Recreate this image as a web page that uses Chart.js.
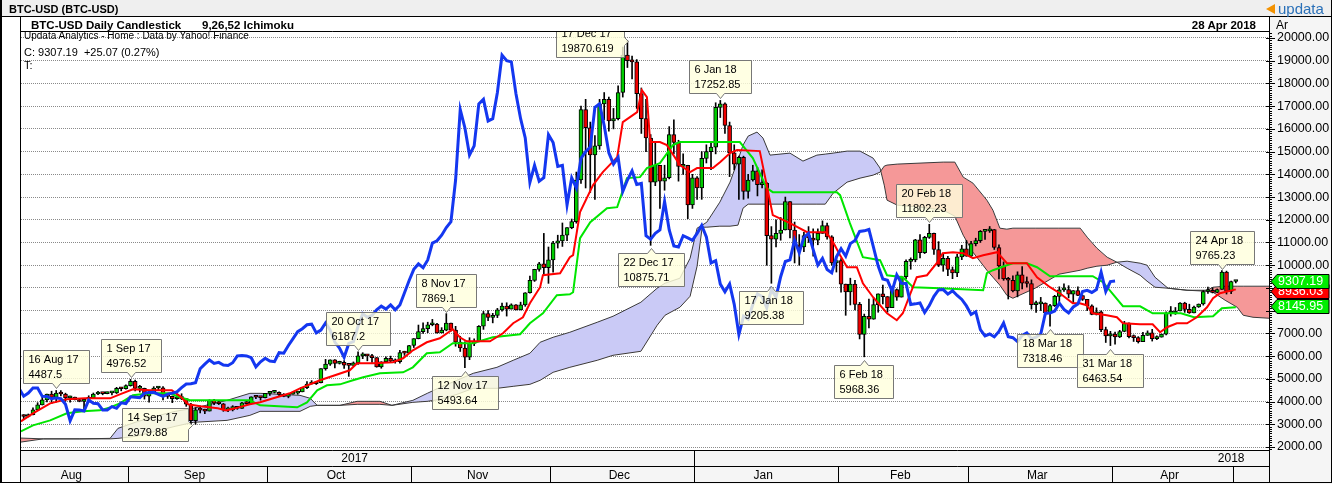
<!DOCTYPE html>
<html>
<head>
<meta charset="utf-8">
<title>BTC-USD Daily Candlestick</title>
<script src="https://cdn.jsdelivr.net/npm/chart.js@4.4.1/dist/chart.umd.min.js"></script>
<style>
  html, body { margin: 0; padding: 0; background: #fff; }
  #wrap { position: relative; width: 1332px; height: 484px; overflow: hidden; font-family: "Liberation Sans", Arial, sans-serif; color: #000; }
  #c { position: absolute; left: 0; top: 0; width: 1332px; height: 484px; }
  .t { position: absolute; white-space: pre; line-height: 14px; height: 14px; z-index: 2; }
  .b { font-weight: bold; }
</style>
</head>
<body>
<div id="wrap">
  <canvas id="c" width="1332" height="484"></canvas>
  <div class="t b" style="left:9px;top:2px;font-size:11px;">BTC-USD (BTC-USD)</div>
  <div style="position:absolute;left:1266px;top:4px;width:0;height:0;border-top:5px solid transparent;border-bottom:5px solid transparent;border-right:9px solid #f39200;z-index:2;"></div>
  <div class="t" style="left:1278px;top:0px;font-size:15px;line-height:17px;height:17px;color:#2a70b8;">updata</div>
  <div class="t b" style="left:31px;top:18px;font-size:11.5px;">BTC-USD Daily Candlestick</div>
  <div class="t b" style="left:202px;top:18px;font-size:11.5px;">9,26,52 Ichimoku</div>
  <div class="t b" style="right:76px;top:18px;font-size:11.5px;">28 Apr 2018</div>
  <div class="t" style="left:1276px;top:18px;font-size:12px;">Ar</div>
  <div class="t" style="left:24px;top:29px;font-size:10px;">Updata Analytics - Home : Data by Yahoo! Finance</div>
  <div class="t" style="left:24px;top:45px;font-size:11px;">C: 9307.19  +25.07 (0.27%)</div>
  <div class="t" style="left:24px;top:58px;font-size:11px;">T:</div>
</div>
<script>
// ── Data: BTC-USD daily candles, 9 Aug 2017 - 27 Apr 2018 ──
// x unit = days counted from 1 Sep 2017
const firstDay = -23;

const opens = [
  // Aug
  3420,3342,3419,3632,3852,4073,4326,4181,4376,4331,4160,4194,4087,4001,4100,4151,4334,4371,4352,4382,4382,4579,4565,
  // Sep
  4703,4892,4578,4582,4236,4376,4597,4599,4228,4226,4122,4161,4130,3882,3154,3637,3625,3582,4065,3924,3905,3631,3631,3776,3703,3942,3910,4208,4189,4174,
  // Oct
  4360,4404,4409,4318,4229,4328,4370,4427,4611,4773,4782,4826,5446,5647,5831,5678,5725,5605,5590,5708,6011,6031,6008,5930,5526,5750,5904,5780,5753,6153,6130,
  // Nov
  6468,6767,7078,7207,7379,7407,7022,7144,7459,7143,6618,6357,5950,6559,6635,7315,7871,7708,7790,8036,8200,8071,8253,8038,8253,8790,9330,9818,10058,9888,
  // Dec
  10233,10975,11074,11323,11657,11916,13750,16850,16050,14850,15250,17100,17300,16350,16450,17600,19250,19000,18950,17550,16450,15600,13650,14400,13700,13850,15750,15400,14350,14400,12650,
  // Jan
  13850,13400,14700,15000,15200,16950,17100,16150,14950,14450,14750,13250,13750,14150,13550,13600,11300,11150,11400,11550,12800,11550,10850,10800,11300,11200,11100,11400,11750,11250,10100,
  // Feb
  10200,9170,8830,9174,8277,6955,7754,7621,8265,8736,8621,8129,8926,8598,9494,10166,10233,11112,10551,11225,11403,10690,10005,10301,9813,9664,10366,10725,
  // Mar
  10397,10951,11086,11489,11513,11573,10779,9965,9395,9337,8866,9578,9205,9194,8269,8300,8338,7916,8223,8630,8913,8929,8728,8879,8668,8495,8209,7833,7954,7165,6891,
  // Apr
  6973,6845,7083,7456,6853,6811,6636,6911,7023,6770,6834,6968,7889,7895,7986,8329,8058,7903,8163,8294,8845,8895,8802,8931,9697,8845,9282.12
];
const highs = [
  3422,3453,3719,3950,4208,4330,4455,4487.5,4484,4370,4243,4196,4109,4128,4255,4376,4455,4379,4416,4443,4625,4626,4736,
  4976.52,4940,4714,4591,4471,4655,4655,4662,4321,4245,4308,4344,4131,3921,3734,3808,3664,4079,4094,4031,3917,3758,3819,3788,3968,4007,4210,4264,4214,4362,
  4406,4470,4432,4352,4362,4413,4457,4624,4878,4922,4873,5450,5857,5837,5852,5776,5800,5605,5744,6187.2,6150,6076,6076,5935,5754,5971,6000,5876,6255,6214,6470,
  6770,7367,7461,7492,7617,7445,7253,7869.1,7459,7312,6873,6625,6811,6764,7342,7967,8004,7884,8101,8336,8348,8302,8268,8374,8795,9522,9822,10125,11400,10801,
  11046,11321,11859,11660,12032,14100,17000,17300,16300,15700,17300,17600,17400,16900,17900,19600,19870.62,19200,19050,17800,17300,15750,15400,14400,14400,16100,16400,15500,14900,14400,14000,
  13900,15000,15300,15400,17150,17252.85,17150,16300,15300,14800,14800,14000,14400,14300,14200,13650,11700,12000,12100,13000,12800,11900,11350,11450,11700,11600,11600,11950,11850,11300,10350,
  10289,9170,9430,9334,8364,7850,8509,8558,8740,9122,8621,8985,8958,9518,10234,10324,11139,11349,11273,11802.23,11418,11039,10487,10393,9923,10475,10878,11089,
  11052,11189,11528,11515,11704,11573,10900,10147,9466,9531,9711,9937,9484,9355,8425,8585,8346,8275,8675,9051,9177,9100,8882,9052,8682,8499,8259,8122,7994,7276,7090,
  7060,7135,7530,7469,6933,6857,7050,7111,7178,6892,6970,7950,8183,8140,8358,8371,8285,8197,8296,8880,9035,9001,8958,9765.23,9740,9305,9330
];
const lows = [
  3247,3319,3412,3632,3850,3989,3906,3977,4243,4015,3970,4069,3989,3674,4078,4130,4307,4297,4340,4288,4352,4471,4549,
  4678,4469,4417,4108,3972,4376,4491,4075,4135,3951,4099,4085,3789,2979.88,3000,3505,3467,3582,3868,3866,3570,3553,3587,3658,3703,3871,3892,4131,4062,4160,
  4269,4377,4258,4210,4164,4320,4319,4427,4564,4765,4751,4822,5380,5591,5478,5651,5461,5109,5570,5636,5887,5792,5724,5511,5466,5747,5724,5689,5684,6030,6103,
  6377,6758,7002,7031,7333,7007,7020,7114,7101,6436,6204,5493.64,5844,6461,6634,7176,7562,7463,7694,7981,7762,8071,8038,8032,8191,8775,9286,9736,9601,9202,
  9694,10756,10827,11081,11605,11850,13600,13400,13200,12900,15100,16400,15900,16000,16400,17400,18700,18200,16900,15800,15000,10875.71,13500,12500,13300,13800,14900,13700,14000,12050,12500,
  12900,12900,14500,14200,14900,16500,15800,13900,14200,12900,12900,12950,13700,13050,13400,10000,9205.38,10800,11100,11550,11200,10100,10000,10600,11000,10400,10900,11400,11150,10000,9700,
  8812,7796,8251,8032,6756,5968.36,7236,7621,7931,8295,7931,8129,8455,8598,9395,9824,10149,10326,10513,11180,10479,9939,9734,9535,9407,9501,10246,10393,
  10353,10850,11002,11136,11443,10694,9394,9335,8513,8828,8607,8957,9036,8068,7925,8005,7812,7318.46,8182,8389,8846,8564,8360,8665,8449,7999,7819,7809,7081,6600,6463.54,
  6526,6816,7072,6804,6645,6575,6631,6911,6662,6725,6834,6937,7758,7833,7986,7925,7880,7903,8141,8244,8757,8779,8790,8931,8731,8749,9220
];
const closes = [
  3342,3419,3632,3852,4073,4326,4181,4376,4331,4160,4194,4087,4001,4100,4151,4334,4371,4352,4382,4382,4579,4565,4703,
  4892,4578,4582,4236,4376,4597,4599,4228,4226,4122,4161,4130,3882,3154,3637,3625,3582,4065,3924,3905,3631,3631,3776,3703,3942,3910,4208,4189,4174,4360,
  4404,4409,4318,4229,4328,4370,4427,4611,4773,4782,4826,5446,5647,5831,5678,5725,5605,5590,5708,6011,6031,6008,5930,5526,5750,5904,5780,5753,6153,6130,6468,
  6767,7078,7207,7379,7407,7022,7144,7459,7143,6618,6357,5950,6559,6635,7315,7871,7708,7790,8036,8200,8071,8253,8038,8253,8790,9330,9818,10058,9888,10233,
  10975,11074,11323,11657,11916,13750,16850,16050,14850,15250,17100,17300,16350,16450,17600,19250,19000,18950,17550,16450,15600,13650,14400,13700,13850,15750,15400,14350,14400,12650,13850,
  13400,14700,15000,15200,16950,17100,16150,14950,14450,14750,13250,13750,14150,13550,13600,11300,11150,11400,11550,12800,11550,10850,10800,11300,11200,11100,11400,11750,11250,10100,10200,
  9170,8830,9174,8277,6955,7754,7621,8265,8736,8621,8129,8926,8598,9494,10166,10233,11112,10551,11225,11403,10690,10005,10301,9813,9664,10366,10725,10397,
  10951,11086,11489,11513,11573,10779,9965,9395,9337,8866,9578,9205,9194,8269,8300,8338,7916,8223,8630,8913,8929,8728,8879,8668,8495,8209,7833,7954,7165,6891,6973,
  6845,7083,7456,6853,6811,6636,6911,7023,6770,6834,6968,7889,7895,7986,8329,8058,7903,8163,8294,8845,8895,8802,8931,9697,8845,9282.12,9307.19
];

// ── Ichimoku lines (day, value) ──
const tenkanDays = [-23.6,-21,-17.3,-13.7,-9.8,-4.4,-2.3,0.5,4.2,8.9,10.7,12.4,15,18.8,20.6,22.5,25.7,27.9,34.3,36.5,40.8,47.2,48.8,52.2,56.5,58.7,60.8,63.8,66.6,69.4,70.9,72.4,77.4,80.2,82.4,84.5,86,88.2,88.8,92.5,94.6,95.3,96.8,99.6,101.7,104.8,106,109.1,110.1,111.2,111.9,114,115.5,118.3,120.5,122,125.4,127,129.1,130.6,135.5,137,138.3,142,145.7,149.8,151.3,152.8,154.3,156.4,157.7,159.9,162.9,165,166.3,169.3,171.5,173.6,174.9,177.1,179.3,181.4,183.6,186.6,188.7,193,195.2,198,200.1,202.9,204.4,205.9,207.2,210.2,212.4,213.7,217.4,220.1,221.7,223.2,225.3,227.5,229.6,231.8,233.1,234.6,238];
const tenkanVals = [3129,3481,3922,4098,4142,4142,4318,4538,4494,4494,4230,3878,3789,3701,3613,3701,3878,3966,4362,4582,4935,5375,5684,5684,5728,5904,6256,6609,6785,7182,6829,6653,6653,7005,7446,7710,8327,9032,9560,9648,10352,10441,12335,13525,14097,14758,16300,16740,17709,17401,15419,15419,15287,14406,14097,14274,14274,14538,14934,15066,15022,13525,12203,11851,11454,11454,11014,10441,9913,9913,9208,8591,7886,7578,7886,9472,9560,10089,10529,10573,10529,10309,10441,10573,10089,10089,9472,9032,8767,8327,8327,8239,7886,7799,7710,7446,7402,7402,7049,7270,7446,7446,7710,8150,8547,8767,8936.03];

const kijunDays = [-23.6,-21,-17.3,-13.7,-10.2,-6.6,-4.4,-2.3,0.5,4.2,8.5,10.7,12.8,25.7,27.9,35.9,38,40.2,42.3,45.1,47.9,50.1,53.7,58.7,60.8,63.8,66.6,69.4,73.7,78,83.9,86,88.8,91.8,94.6,95.3,96.8,99,102.6,104.8,106.9,109.7,111.2,114,116.8,118.3,131.2,134,137,138.3,152.1,152.8,154.9,157.7,161.4,162.9,166.3,168.5,174.3,183.6,184.4,185.7,188.7,190,193,195.2,198,207.2,209.4,213.7,217.4,220.1,226.2,229,233.1,235,238];
const kijunVals = [2688,2953,3173,3481,3569,3613,3745,3922,4274,4362,4362,4186,4054,4054,3833,3745,3966,4494,4714,4758,4935,5067,5243,5287,5507,6124,6168,6565,6565,6829,6961,7446,7886,8679,8723,8811,11190,11895,12512,12556,13833,13877,14274,14494,15287,15419,15419,14714,13393,13216,13216,13084,11851,10353,10221,9560,9472,9032,8988,8899,9648,9780,10001,10089,10089,9913,9516,9516,9252,8194,8194,7886,7886,7710,7754,8107,8145.95];

const cloudDays = [-23.6,-18.8,-10.9,-4.4,-2.7,1,5.3,9.6,13.5,20.8,25.7,27.9,36.5,38.7,40.2,45.1,48.8,53.7,56.3,60.8,63.9,66.7,70.3,73.8,78.9,82.4,86,88.2,91,94.6,100.5,103.9,109.9,113.4,115.1,118.3,120.5,122,123.1,124.1,126.9,129.1,130.8,131.9,133,134.9,136.2,137.7,142,144.8,147.8,149.6,151.3,154.3,157.1,159.9,161.4,162.3,162.9,165.1,170,175,177.5,179.3,181.4,184.4,185.7,187.2,188.7,190,194.8,199.9,204.5,206,208.1,210.3,212.4,214.6,217.4,218.9,220.6,223.4,227.5,231.8,233.1,235.7,238.3,239.6,241.7,245.2];
const spanA = [2217,2358,2358,2380,2820,3085,3349,3569,3701,4054,4362,4362,4274,4142,3833,3833,3878,3878,3833,4054,4362,4626,4935,5243,5507,5816,6124,6609,6829,7049,7490,7754,8371,8988,9208,9428,10309,11630,11763,11895,12776,13657,14626,15287,15683,15859,15595,14846,14934,14582,14846,14890,14934,15022,15022,14714,14274,13525,12864,12644,12556,12423,12159,11322,10573,9780,9472,9120,8679,8547,8988,9604,9780,9868,9957,10001,10133,10177,10089,10001,9472,8988,8899,8855,8811,8459,8150,7798,7710,7666];
const spanB = [2393,2358,2358,2358,2380,2468,2688,2909,3085,3173,3393,3569,3569,3789,3833,3833,4010,4010,3833,3966,4010,4098,4318,4582,4582,4670,4758,4935,5287,5507,5816,6036,6212,7358,7798,8150,8635,9957,11674,11674,11718,11718,11763,12512,12688,12688,12688,12688,12688,12688,12688,12688,13172,13657,13833,13965,14097,14362,14406,14450,14494,14538,14538,13877,13613,12864,12423,11630,11586,11630,11630,11630,11630,11234,10749,10353,10133,9868,9560,9296,9032,8988,8899,8899,9032,9076,9076,9076,9076,9076];
const chikouLag = 26;

// ── Swing labels ──
const noteDays   = [-16, 0, 13, 49, 68, 72, 107, 112, 127, 138, 158, 172, 198, 211, 235];
const noteDates  = ['16 Aug 17','1 Sep 17','14 Sep 17','20 Oct 17','8 Nov 17','12 Nov 17','17 Dec 17','22 Dec 17','6 Jan 18','17 Jan 18','6 Feb 18','20 Feb 18','18 Mar 18','31 Mar 18','24 Apr 18'];
const noteValues = ['4487.5','4976.52','2979.88','6187.2','7869.1','5493.64','19870.619','10875.71','17252.85','9205.38','5968.36','11802.23','7318.46','6463.54','9765.23'];
const noteTypes  = ['H','H','L','H','H','L','H','L','H','L','L','H','L','L','H'];

// ── Axes ──
const yTicks = [2000,3000,4000,5000,6000,7000,8000,9000,10000,11000,12000,13000,14000,15000,16000,17000,18000,19000,20000];
const yMin = 1868, yMax = 20264;
const xMin = -23.58, xMax = 245.15;
const monthLabels = ['Aug','Sep','Oct','Nov','Dec','Jan','Feb','Mar','Apr'];
const monthStarts = [-31, 0, 30, 61, 91, 122, 153, 181, 212];
const yearLabels = ['2017','2018'];
const yearStarts = [-243, 122];

// ── Styles ──
const W = 1332, H = 484;
const FONT = '"Liberation Sans", Arial, sans-serif';
const UP = '#00cc00', DOWN = '#ee0000';
const panel = '#f5f5f5';

const dayIdx = opens.map((_, i) => firstDay + i);
const lastDay = dayIdx[dayIdx.length - 1];
const bodyColors = closes.map((c, i) => (c >= opens[i] ? UP : DOWN));
const pts = (xs, ys) => xs.map((d, i) => ({ x: d, y: ys[i] }));

// ── Frame, bottom date axis, axis ticks, price tags ──
function priceTag(ctx, a, yPix, text, fill) {
  const x0 = a.right + 2, x1 = x0 + 6, x2 = a.right + 60, h = 14;
  const top = Math.round(yPix - h / 2) + 0.5;
  ctx.beginPath();
  ctx.moveTo(x0, top + h / 2);
  ctx.lineTo(x1, top);
  ctx.lineTo(x2, top);
  ctx.lineTo(x2, top + h);
  ctx.lineTo(x1, top + h);
  ctx.closePath();
  ctx.fillStyle = fill;
  ctx.fill();
  ctx.strokeStyle = '#000';
  ctx.stroke();
  ctx.fillStyle = '#fff';
  ctx.font = '12.5px ' + FONT;
  ctx.textAlign = 'left';
  ctx.textBaseline = 'middle';
  ctx.fillText(text, x1 + 1, top + h / 2 + 0.5);
}

const framePlugin = {
  id: 'frame',
  beforeDraw(chart) {
    const { ctx, chartArea: a } = chart;
    ctx.save();
    ctx.fillStyle = '#fff';
    ctx.fillRect(0, 0, W, H);
    ctx.fillStyle = '#efefef';
    ctx.fillRect(0, 0, W, 17);
    ctx.fillStyle = panel;
    ctx.fillRect(a.right, 17, W - a.right, H - 17);
    ctx.fillRect(a.left, a.bottom, a.right - a.left, H - a.bottom);
    ctx.restore();
  },
  afterDraw(chart) {
    const { ctx, chartArea: a, scales: { x, y } } = chart;
    const line = (x1, y1, x2, y2) => { ctx.beginPath(); ctx.moveTo(x1, y1); ctx.lineTo(x2, y2); ctx.stroke(); };
    ctx.save();
    ctx.strokeStyle = '#000';
    ctx.lineWidth = 1;
    const L = a.left - 0.5, R = a.right + 0.5;
    const row = a.bottom + 16.5, bottom = H - 1.5;

    // frame
    line(0, 16.5, W, 16.5);
    line(L, 16.5, L, bottom);
    line(R, 16.5, R, bottom);
    line(L, a.top - 0.5, R, a.top - 0.5);
    line(L, a.bottom + 0.5, R, a.bottom + 0.5);
    line(L, row, R, row);
    line(0, bottom, W, bottom);
    line(0.5, 0, 0.5, bottom);
    line(1.5, 0, 1.5, bottom);
    line(W - 0.5, 0, W - 0.5, bottom);

    // value axis ticks
    for (let v = Math.ceil(yMin / 100) * 100; v <= yMax; v += 100) {
      const py = Math.round(y.getPixelForValue(v)) + 0.5;
      if (v % 1000 === 0) line(a.right - 3, py, a.right + 6, py);
      else line(a.right, py, a.right + 3, py);
    }

    // month row
    ctx.fillStyle = '#000';
    ctx.font = '12px ' + FONT;
    ctx.textAlign = 'center';
    ctx.textBaseline = 'middle';
    const edges = monthStarts.map(d => x.getPixelForValue(d - 0.6));
    edges.push(x.getPixelForValue(lastDay - 0.6));
    for (let k = 0; k < monthLabels.length; k++) {
      const l = Math.max(edges[k], a.left), r = Math.min(edges[k + 1], a.right);
      ctx.fillText(monthLabels[k], (l + r) / 2 - 3, row + 9);
    }
    for (let k = 1; k < edges.length; k++) {
      const ex = Math.round(edges[k]) + 0.5;
      if (ex > a.left && ex < a.right) line(ex, row, ex, bottom);
    }

    // year row
    const yb = yearStarts.map(d => x.getPixelForValue(d - 0.6));
    for (let k = 0; k < yearLabels.length; k++) {
      let cx;
      if (k === yearLabels.length - 1) cx = x.getPixelForValue(lastDay - 1);
      else cx = (Math.max(yb[k], a.left) + Math.min(yb[k + 1], a.right)) / 2 - 3;
      ctx.fillText(yearLabels[k], cx, a.bottom + 9);
      if (k > 0) {
        const ex = Math.round(yb[k]) + 0.5;
        line(ex, a.bottom + 0.5, ex, row);
      }
    }

    // last-value tags: tenkan, kijun, close
    const tk = tenkanVals[tenkanVals.length - 1], kj = kijunVals[kijunVals.length - 1], cl = closes[closes.length - 1];
    priceTag(ctx, a, y.getPixelForValue(tk) + 2, tk.toFixed(2), '#ff0000');
    priceTag(ctx, a, y.getPixelForValue(kj) - 1, kj.toFixed(2), '#00ee00');
    priceTag(ctx, a, y.getPixelForValue(cl), cl.toFixed(2), '#00ee00');
    ctx.restore();
  }
};

// ── Swing high / low labels ──
const notesPlugin = {
  id: 'notes',
  afterDatasetsDraw(chart) {
    const { ctx, chartArea: a, scales: { x, y } } = chart;
    ctx.save();
    ctx.beginPath();
    ctx.rect(a.left, a.top, a.right - a.left, a.bottom - a.top);
    ctx.clip();
    ctx.font = '11px ' + FONT;
    ctx.textAlign = 'left';
    ctx.textBaseline = 'middle';
    ctx.lineWidth = 1;
    noteDays.forEach((d, i) => {
      const px = Math.round(x.getPixelForValue(d));
      const py = Math.round(y.getPixelForValue(parseFloat(noteValues[i])));
      const high = noteTypes[i] === 'H';
      const w = Math.round(Math.max(ctx.measureText(noteDates[i]).width, ctx.measureText(noteValues[i]).width) + 16);
      const h = 33;
      let bx = px - Math.round(w / 2) + 0.5;
      let by = (high ? py - 7 - h : py + 8) + 0.5;
      const side = high ? by < a.top : by + h > a.bottom;
      if (side) {
        bx = px - 3 - w + 0.5;
        by = py - Math.round(h / 2) + 0.5;
      }
      ctx.beginPath();
      ctx.moveTo(bx, by);
      if (!side && !high) {
        ctx.lineTo(px - 4 + 0.5, by);
        ctx.lineTo(px + 0.5, by - 5);
        ctx.lineTo(px + 4 + 0.5, by);
      }
      ctx.lineTo(bx + w, by);
      if (side) {
        ctx.lineTo(bx + w, py - 4 + 0.5);
        ctx.lineTo(bx + w + 4, py + 0.5);
        ctx.lineTo(bx + w, py + 4 + 0.5);
      }
      ctx.lineTo(bx + w, by + h);
      if (!side && high) {
        ctx.lineTo(px + 4 + 0.5, by + h);
        ctx.lineTo(px + 0.5, by + h + 5);
        ctx.lineTo(px - 4 + 0.5, by + h);
      }
      ctx.lineTo(bx, by + h);
      ctx.closePath();
      ctx.fillStyle = 'rgba(255,255,221,0.82)';
      ctx.fill();
      ctx.strokeStyle = '#777';
      ctx.stroke();
      ctx.fillStyle = '#000';
      ctx.fillText(noteDates[i], bx + 5, by + 9.5);
      ctx.fillText(noteValues[i], bx + 5, by + 24.5);
    });
    ctx.restore();
  }
};

Chart.defaults.font.family = FONT;

new Chart(document.getElementById('c'), {
  type: 'bar',
  data: {
    datasets: [
      { type: 'line', label: 'Chikou', data: closes.map((c, i) => ({ x: dayIdx[i] - chikouLag, y: c })),
        borderColor: '#1437f0', borderWidth: 3, pointRadius: 0, tension: 0, clip: 0, order: 1 },
      { type: 'line', label: 'Tenkan', data: pts(tenkanDays, tenkanVals),
        borderColor: '#ff0000', borderWidth: 2, pointRadius: 0, tension: 0, clip: 0, order: 2 },
      { type: 'line', label: 'Kijun', data: pts(kijunDays, kijunVals),
        borderColor: '#00e600', borderWidth: 2, pointRadius: 0, tension: 0, clip: 0, order: 3 },
      { type: 'bar', label: 'Body', data: opens.map((o, i) => ({ x: dayIdx[i], y: [o, closes[i]] })),
        backgroundColor: bodyColors, borderColor: '#000', borderWidth: 1, borderSkipped: false,
        barThickness: 4, minBarLength: 2, grouped: false, clip: 0, order: 4 },
      { type: 'bar', label: 'Wick', data: lows.map((l, i) => ({ x: dayIdx[i], y: [l, highs[i]] })),
        backgroundColor: '#000', borderWidth: 0, barThickness: 1, grouped: false, clip: 0, order: 5 },
      { type: 'line', label: 'Span A', data: pts(cloudDays, spanA),
        borderColor: '#3a3a3a', borderWidth: 1, pointRadius: 0, tension: 0, clip: 0, order: 6,
        fill: { target: '+1', above: 'rgb(202,202,246)', below: 'rgb(245,152,152)' } },
      { type: 'line', label: 'Span B', data: pts(cloudDays, spanB),
        borderColor: '#3a3a3a', borderWidth: 1, pointRadius: 0, tension: 0, clip: 0, order: 7, fill: false }
    ]
  },
  options: {
    responsive: false,
    maintainAspectRatio: false,
    devicePixelRatio: 1,
    animation: false,
    events: [],
    layout: { padding: { left: 21, top: 32, right: 0, bottom: 34 } },
    plugins: {
      legend: { display: false },
      tooltip: { enabled: false },
      filler: { drawTime: 'beforeDatasetsDraw' }
    },
    scales: {
      x: { type: 'linear', min: xMin, max: xMax, display: false, offset: false },
      y: {
        position: 'right',
        min: yMin,
        max: yMax,
        afterFit: s => { s.width = 63; },
        afterBuildTicks: s => { s.ticks = yTicks.map(v => ({ value: v })); },
        ticks: { autoSkip: false, padding: 8, color: '#000', font: { size: 12.5 }, callback: v => Number(v).toFixed(2) },
        grid: { color: '#8a8a8a', drawTicks: false },
        border: { display: false, dash: [1, 1] }
      }
    }
  },
  plugins: [framePlugin, notesPlugin]
});
</script>
</body>
</html>
